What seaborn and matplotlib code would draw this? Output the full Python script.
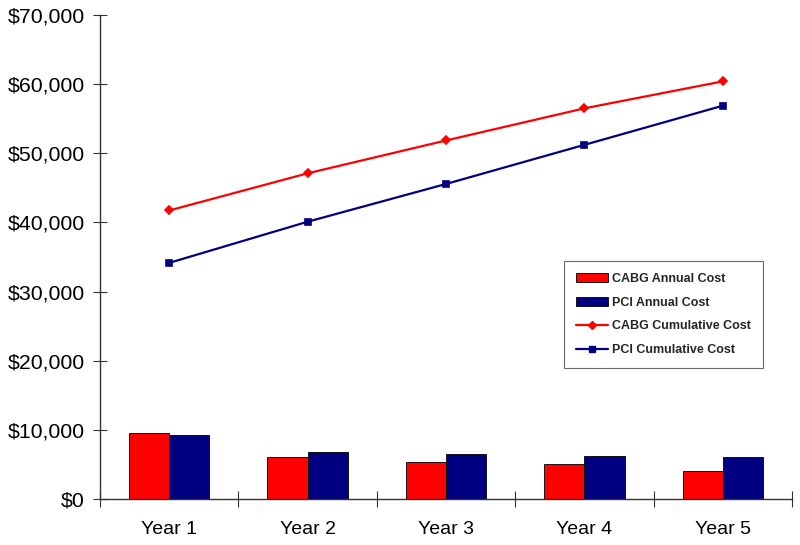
import numpy as np
import pandas as pd
import matplotlib
matplotlib.use('agg')
import matplotlib.pyplot as plt
import seaborn as sns
from matplotlib.patches import Patch
from matplotlib.lines import Line2D
from matplotlib.ticker import FuncFormatter, FixedLocator

years = ["Year 1", "Year 2", "Year 3", "Year 4", "Year 5"]
cabg_annual = [9600, 6100, 5300, 5100, 4050]
pci_annual = [9300, 6780, 6440, 6240, 6100]
cabg_cumulative = [41730, 47100, 51850, 56500, 60400]
pci_cumulative = [34150, 40100, 45560, 51220, 56880]

red = "#FF0000"
navy = "#000080"

annual = pd.DataFrame({
    "Year": years * 2,
    "Cost": cabg_annual + pci_annual,
    "Series": ["CABG Annual Cost"] * 5 + ["PCI Annual Cost"] * 5,
})
cumulative = pd.DataFrame({
    "Year": years * 2,
    "Cost": cabg_cumulative + pci_cumulative,
    "Series": ["CABG Cumulative Cost"] * 5 + ["PCI Cumulative Cost"] * 5,
})

sns.set_style("white")
plt.rcParams['font.family'] = ['Liberation Sans', 'DejaVu Sans']

fig = plt.figure(figsize=(8, 5.45), dpi=100)
ax = fig.add_axes([0.125, 0.0844, 0.865, 0.8881])

sns.barplot(data=annual, x="Year", y="Cost", hue="Series", order=years,
            palette=[red, navy], saturation=1, width=0.58, gap=0,
            edgecolor="black", linewidth=0.6, ax=ax, legend=False)
sns.pointplot(data=cumulative, x="Year", y="Cost", hue="Series", order=years,
              palette=[red, navy], markers=["D", "s"], markersize=4.3,
              linewidth=1.6, dodge=False, ax=ax, legend=False)

ax.set_xlim(-0.5, 4.5)
ax.set_ylim(0, 70000)
ax.set_yticks(np.arange(0, 70001, 10000))
ax.yaxis.set_major_formatter(FuncFormatter(lambda v, p: f"${v:,.0f}"))
ax.set_xlabel("")
ax.set_ylabel("")

ax.xaxis.set_minor_locator(FixedLocator(np.arange(-0.5, 4.6, 1)))
ax.tick_params(axis="x", which="major", bottom=True, length=0, pad=16,
               labelsize=14, labelcolor="black")
ax.tick_params(axis="x", which="minor", bottom=True, length=11,
               direction="inout", width=0.8, color="#333333")
ax.tick_params(axis="y", left=True, length=10, direction="inout", width=0.8,
               color="#333333", labelsize=15.3, labelcolor="black", pad=6)

for side in ["top", "right"]:
    ax.spines[side].set_visible(False)
for side in ["left", "bottom"]:
    ax.spines[side].set_color("#333333")
    ax.spines[side].set_linewidth(1.0)

handles = [
    Patch(facecolor=red, edgecolor="black", linewidth=0.6, label="CABG Annual Cost"),
    Patch(facecolor=navy, edgecolor="black", linewidth=0.6, label="PCI Annual Cost"),
    Line2D([], [], color=red, marker="D", markersize=4.3, linewidth=1.6, label="CABG Cumulative Cost"),
    Line2D([], [], color=navy, marker="s", markersize=4.3, linewidth=1.6, label="PCI Cumulative Cost"),
]
leg = ax.legend(handles=handles, loc="upper left", bbox_to_anchor=(0.661, 0.505),
                frameon=True, fancybox=False, edgecolor="#444444",
                prop={"weight": "bold", "size": 9}, handlelength=2.6,
                handleheight=0.7, labelspacing=0.95, borderpad=0.95, handletextpad=0.3)
leg.get_frame().set_linewidth(0.8)

fig.savefig("out.png", dpi=100)
